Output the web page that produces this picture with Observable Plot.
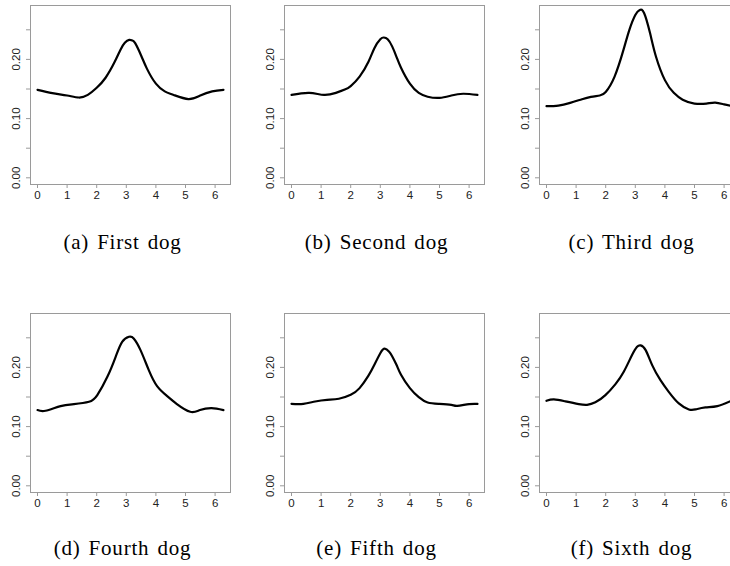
<!DOCTYPE html>
<html><head><meta charset="utf-8">
<script src="https://cdn.jsdelivr.net/npm/d3@7"></script>
<script src="https://cdn.jsdelivr.net/npm/@observablehq/plot@0.6"></script>
<style>
html,body{margin:0;padding:0;background:#fff;width:730px;height:566px;overflow:hidden}
#root{position:relative;width:730px;height:566px;overflow:hidden}
.panel{position:absolute}
.cap{position:absolute;width:245px;text-align:center;font-family:"Liberation Serif",serif;font-size:21px;line-height:21px;color:#000;white-space:nowrap;letter-spacing:0.8px;word-spacing:2px}
</style></head><body><div id="root"></div>
<script>
const captions = ["(a) First dog", "(b) Second dog", "(c) Third dog", "(d) Fourth dog", "(e) Fifth dog", "(f) Sixth dog"];
const xTicks = [0, 1, 2, 3, 4, 5, 6];
const yTicks = [0, 0.05, 0.10, 0.15, 0.20, 0.25];
const yTickLabels = ["0.00", "", "0.10", "", "0.20", ""];

const dog1X = [0, 0.5, 1, 1.4, 1.7, 2, 2.3, 2.6, 2.8, 2.95, 3.1, 3.2, 3.3, 3.5, 3.7, 4, 4.3, 4.6, 5.1, 5.5, 5.9, 6.283];
const dog1Y = [0.1486, 0.143, 0.139, 0.1356, 0.140, 0.152, 0.169, 0.195, 0.216, 0.228, 0.233, 0.232, 0.2274, 0.2066, 0.184, 0.159, 0.146, 0.140, 0.133, 0.139, 0.146, 0.1486];

const dog2X = [0, 0.6, 1.1, 1.5, 1.8, 2, 2.3, 2.6, 2.8, 3.0, 3.12, 3.25, 3.4, 3.55, 3.7, 4, 4.3, 4.6, 5, 5.4, 5.8, 6.283];
const dog2Y = [0.140, 0.1435, 0.140, 0.1435, 0.149, 0.155, 0.171, 0.196, 0.219, 0.234, 0.237, 0.234, 0.222, 0.204, 0.186, 0.159, 0.1435, 0.137, 0.135, 0.139, 0.142, 0.140];

const dog3X = [0, 0.4, 0.8, 1.2, 1.5, 1.8, 2, 2.3, 2.6, 2.8, 3.0, 3.15, 3.3, 3.5, 3.7, 4, 4.3, 4.6, 5, 5.4, 5.7, 6, 6.283];
const dog3Y = [0.121, 0.122, 0.1266, 0.1328, 0.1367, 0.139, 0.145, 0.171, 0.216, 0.250, 0.275, 0.2836, 0.278, 0.244, 0.2045, 0.165, 0.1435, 0.132, 0.1254, 0.1254, 0.127, 0.124, 0.121];

const dog4X = [0, 0.27, 0.78, 1.23, 1.74, 2.02, 2.36, 2.64, 2.86, 3.09, 3.25, 3.48, 3.76, 4.04, 4.38, 4.71, 5.16, 5.49, 5.88, 6.283];
const dog4Y = [0.1279, 0.1267, 0.1346, 0.138, 0.1419, 0.1532, 0.1841, 0.2179, 0.2432, 0.2517, 0.2489, 0.2292, 0.1954, 0.1684, 0.1515, 0.138, 0.125, 0.1279, 0.1312, 0.1279];

const dog5X = [0, 0.4, 0.8, 1.2, 1.6, 2, 2.3, 2.6, 2.8, 3.0, 3.15, 3.3, 3.4, 3.55, 3.7, 4, 4.3, 4.6, 5, 5.4, 5.6, 6, 6.283];
const dog5Y = [0.1384, 0.1384, 0.1424, 0.1452, 0.147, 0.1537, 0.165, 0.186, 0.2045, 0.224, 0.2316, 0.2265, 0.219, 0.204, 0.1876, 0.165, 0.1497, 0.1407, 0.1384, 0.1367, 0.135, 0.138, 0.1384];

const dog6X = [0, 0.25, 0.64, 1.09, 1.37, 1.65, 1.99, 2.33, 2.61, 2.89, 3.06, 3.18, 3.35, 3.57, 3.85, 4.13, 4.47, 4.81, 5.03, 5.37, 5.77, 6.283];
const dog6Y = [0.1436, 0.1459, 0.1426, 0.138, 0.1368, 0.141, 0.1532, 0.1718, 0.1926, 0.2208, 0.2348, 0.2372, 0.2292, 0.2039, 0.1785, 0.1588, 0.1392, 0.129, 0.129, 0.1324, 0.1346, 0.1445];

const dogsX = [dog1X, dog2X, dog3X, dog4X, dog5X, dog6X];
const dogsY = [dog1Y, dog2Y, dog3Y, dog4Y, dog5Y, dog6Y];

const root = document.getElementById("root");
const colLeft = [0, 254, 509];
const rowTop = [0, 308];
const capTop = [231.7, 537.7];

for (let i = 0; i < 6; i++) {
  const col = i % 3, row = Math.floor(i / 3);
  const data = dogsX[i].map((x, j) => ({x, y: dogsY[i][j]}));
  const yLab = yTicks.map((v, j) => ({v, l: yTickLabels[j]})).filter(d => d.l);
  const plot = Plot.plot({
    width: 250, height: 215,
    marginLeft: 30, marginRight: 20, marginTop: 5, marginBottom: 31,
    x: {domain: [-7 / 29.6, 193 / 29.6], label: null},
    y: {domain: [-6.7 / 592, 172.3 / 592], label: null},
    style: {fontFamily: "'Liberation Sans', Arial, sans-serif", fontSize: "11.5px", color: "#222", background: "transparent", overflow: "visible"},
    marks: [
      Plot.frame({stroke: "#9a9a9a"}),
      Plot.axisX({ticks: xTicks, tickSize: 4, tickPadding: 2, stroke: "#9a9a9a", fill: "#222", tickFormat: d => String(d), label: null}),
      Plot.axisY({ticks: yTicks, tickSize: 4, tickFormat: () => "", stroke: "#9a9a9a", label: null}),
      Plot.text(yLab, {y: "v", text: "l", frameAnchor: "left", dx: -14, rotate: -90, textAnchor: "middle", lineAnchor: "middle", fill: "#222"}),
      Plot.line(data, {x: "x", y: "y", curve: "natural", stroke: "#000", strokeWidth: 2.2})
    ]
  });
  plot.classList.add("panel");
  plot.style.left = colLeft[col] + "px";
  plot.style.top = rowTop[row] + "px";
  root.appendChild(plot);
  const cap = document.createElement("div");
  cap.className = "cap";
  cap.textContent = captions[i];
  cap.style.left = colLeft[col] + "px";
  cap.style.top = capTop[row] + "px";
  root.appendChild(cap);
}
</script></body></html>
